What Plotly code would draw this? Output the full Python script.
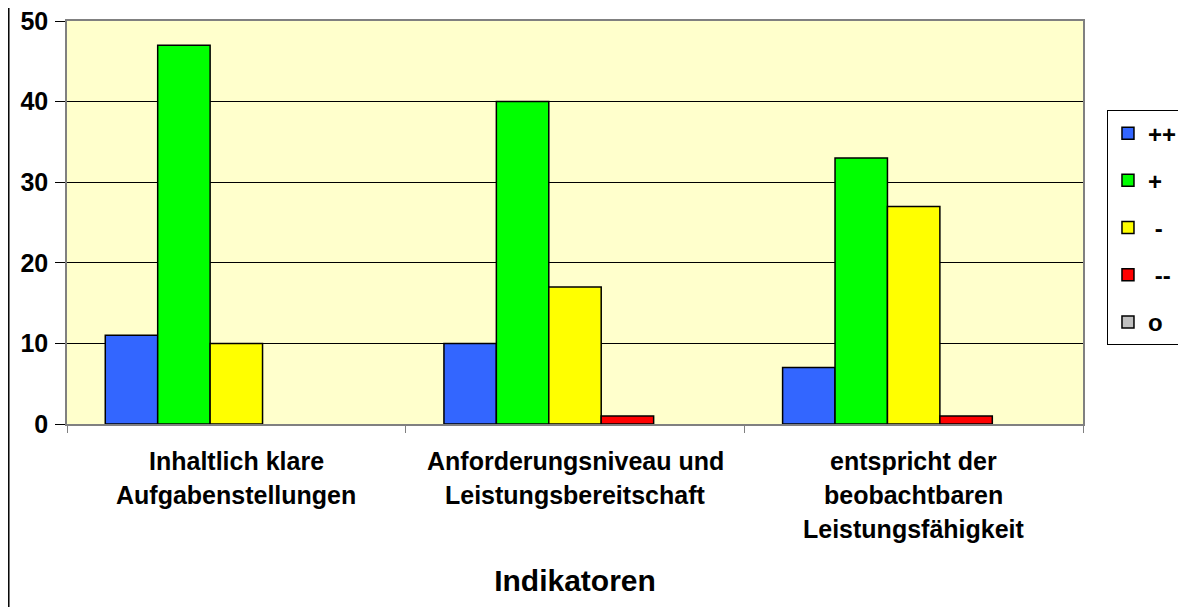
import plotly.graph_objects as go

# Indikatoren and counts per rating
categories = ["Inhaltlich klare Aufgabenstellungen",
              "Anforderungsniveau und Leistungsbereitschaft",
              "entspricht der beobachtbaren Leistungsfähigkeit"]
label_lines = [["Inhaltlich klare", "Aufgabenstellungen"],
               ["Anforderungsniveau und", "Leistungsbereitschaft"],
               ["entspricht der", "beobachtbaren", "Leistungsfähigkeit"]]

series_names = ["++", "+", "-", "--", "o"]
vals_pp = [11, 10, 7]
vals_p = [47, 40, 33]
vals_m = [10, 17, 27]
vals_mm = [0, 1, 1]
vals_o = [0, 0, 0]
series_values = [vals_pp, vals_p, vals_m, vals_mm, vals_o]
colors = ["#3366FF", "#00FF00", "#FFFF00", "#FF0000", "#C0C0C0"]
legend_labels = ["++", "+", " -", " --", "o"]

FONT = "Liberation Sans, Arial, sans-serif"

fig = go.Figure()
for name, lab, vals, col in zip(series_names, legend_labels, series_values, colors):
    # empty bars are not drawn at all (like in Excel)
    fig.add_trace(go.Bar(
        x=categories, y=[v if v > 0 else None for v in vals],
        name=lab, legendgroup=name,
        marker=dict(color=col, line=dict(color="black", width=1.5)),
    ))

# multi-line category labels (wide line spacing as in the original)
for cat, lines in zip(categories, label_lines):
    for i, line in enumerate(lines):
        fig.add_annotation(x=cat, xref="x", y=0, yref="paper",
                           text="<b>%s</b>" % line, showarrow=False,
                           yanchor="middle", yshift=-(37 + 34 * i),
                           font=dict(family=FONT, size=25, color="black"))

# outer frame on the left side (as far left as the svg allows)
fig.add_shape(type="line", xref="paper", yref="paper",
              x0=-0.0573, x1=-0.0573, y0=-0.6, y1=1.1,
              line=dict(color="black", width=1.5))

# page body has an 8px margin, so margins are shifted by that
fig.update_layout(
    width=1186, height=607,
    margin=dict(l=59, r=111, t=13, b=191, autoexpand=False),
    paper_bgcolor="white", plot_bgcolor="#FFFFCC",
    barmode="group", bargap=0.226, bargroupgap=0,
    font=dict(family=FONT, color="black"),
    showlegend=True,
    legend=dict(x=1.0236, xanchor="left", y=0.779, yanchor="top",
                bordercolor="black", borderwidth=1, bgcolor="white",
                font=dict(family=FONT, size=24, color="black", weight="bold"),
                tracegroupgap=13, traceorder="grouped"),
)
fig.update_yaxes(range=[0, 50], dtick=10, showgrid=True, gridcolor="black", gridwidth=1,
                 ticks="outside", ticklen=10, tickcolor="black", ticklabelstandoff=2,
                 ticklabeloverflow="allow",
                 showline=True, linecolor="#808080", linewidth=1.5, mirror=True,
                 tickfont=dict(family=FONT, size=25, weight="bold"),
                 zeroline=False, fixedrange=True, automargin=False)
fig.update_xaxes(showticklabels=False, tickson="boundaries", ticks="outside", ticklen=7,
                 tickcolor="#808080", showline=True, linecolor="#808080", linewidth=1.5,
                 mirror=True, automargin=False,
                 title=dict(text="<b>Indikatoren</b>", standoff=145,
                            font=dict(family=FONT, size=30, color="black")))

fig.write_html("out.html")
